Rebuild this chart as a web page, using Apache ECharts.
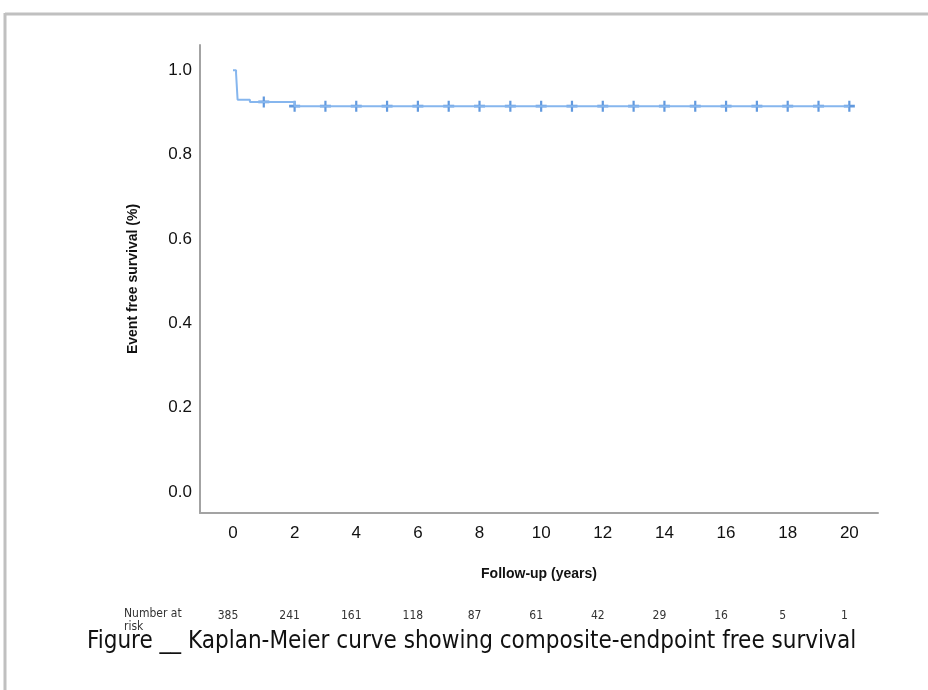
<!DOCTYPE html>
<html>
<head>
<meta charset="utf-8">
<script src="https://cdn.jsdelivr.net/npm/echarts@6/dist/echarts.min.js"></script>
<style>html,body{margin:0;padding:0;background:#fff}#c{width:928px;height:690px}</style>
</head>
<body>
<div id="c"></div>
<script>
// Kaplan-Meier step data (time in years, survival)
const kmTimes = [0, 0.1, 0.15, 0.55, 2.0, 20];
const kmSurv  = [1.0, 0.993, 0.93, 0.925, 0.915, 0.915];
// censored marks
const censorTimes = [1, 2, 3, 4, 5, 6, 7, 8, 9, 10, 11, 12, 13, 14, 15, 16, 17, 18, 19, 20];
const censorSurv  = [0.925, 0.915, 0.915, 0.915, 0.915, 0.915, 0.915, 0.915, 0.915, 0.915, 0.915, 0.915, 0.915, 0.915, 0.915, 0.915, 0.915, 0.915, 0.915, 0.915];
// axis ticks
const xTicks = [0, 2, 4, 6, 8, 10, 12, 14, 16, 18, 20];
const yTicks = [0, 0.2, 0.4, 0.6, 0.8, 1.0];
// number at risk under each x tick
const atRisk = [385, 241, 161, 118, 87, 61, 42, 29, 16, 5, 1];

const chart = echarts.init(document.getElementById('c'));
const axisCol = '#a3a3a3';
const plusPath = 'path://M-1,-5 H1 V-1.3 H5 V1.3 H1 V5 H-1 V1.3 H-5 V-1.3 H-1 Z';
const font = 'Liberation Sans, Arial, sans-serif';
const narrow = '"Liberation Sans Narrow", "DejaVu Sans Condensed", Arial, sans-serif';

chart.setOption({
  animation: false,
  backgroundColor: '#fff',
  grid: {left: 200, right: 50, top: 45, bottom: 177, containLabel: false},
  xAxis: [{
    type: 'value', min: -1.07, max: 20.93,
    axisLine: {show: true, onZero: false, lineStyle: {color: axisCol, width: 2}},
    axisTick: {show: false},
    splitLine: {show: false},
    axisLabel: {customValues: xTicks, fontSize: 17, color: '#111', fontFamily: font, margin: 12},
    name: 'Follow-up (years)', nameLocation: 'middle', nameGap: 54,
    nameTextStyle: {fontSize: 14, fontWeight: 'bold', color: '#111', fontFamily: font}
  }, {
    type: 'value', min: -1.07, max: 20.93, position: 'bottom', offset: 89,
    axisLine: {show: false, onZero: false}, axisTick: {show: false}, splitLine: {show: false},
    axisLabel: {
      customValues: xTicks, fontSize: 12, color: '#333', fontFamily: narrow,
      padding: [0, 10, 0, 0],
      formatter: function (v) { const i = xTicks.indexOf(Math.round(v)); return i >= 0 ? String(atRisk[i]) : ''; }
    }
  }],
  yAxis: {
    type: 'value', min: -0.05, max: 1.06,
    axisLine: {show: true, onZero: false, lineStyle: {color: axisCol, width: 2}},
    axisTick: {show: false},
    splitLine: {show: false},
    axisLabel: {customValues: yTicks, fontSize: 17, color: '#111', fontFamily: font, margin: 8,
      formatter: function (v) { return v.toFixed(1); }},
    name: 'Event free survival (%)', nameLocation: 'middle', nameGap: 60,
    nameTextStyle: {fontSize: 14, fontWeight: 'bold', color: '#111', fontFamily: font}
  },
  series: [{
    type: 'line', step: 'end', showSymbol: false, symbol: 'none',
    data: kmTimes.map((t, i) => [t, kmSurv[i]]),
    lineStyle: {color: '#86b6ee', width: 2}
  }, {
    type: 'scatter', symbol: plusPath, symbolSize: [11, 11],
    data: censorTimes.map((t, i) => [t, censorSurv[i]]),
    itemStyle: {color: '#3a80d6'}
  }],
  graphic: [
    {type: 'line', shape: {x1: 5, y1: 14, x2: 928, y2: 14}, style: {stroke: '#c0c0c0', lineWidth: 3}},
    {type: 'line', shape: {x1: 5, y1: 13, x2: 5, y2: 690}, style: {stroke: '#c0c0c0', lineWidth: 3}},
    {type: 'text', left: 124, top: 607, style: {text: 'Number at\nrisk', font: '12px ' + narrow, fill: '#333', lineHeight: 13}},
    {type: 'text', left: 87, top: 630, style: {text: 'Figure __ Kaplan-Meier curve showing composite-endpoint free survival', font: '24px ' + narrow, fill: '#111'}}
  ]
});
</script>
</body>
</html>
